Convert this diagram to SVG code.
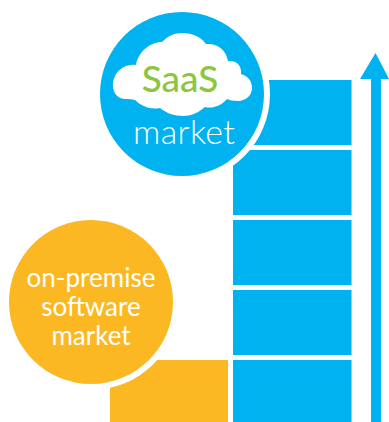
<svg xmlns="http://www.w3.org/2000/svg" width="389" height="422" viewBox="0 0 389 422">
<style>
.b{fill:#00b2ef}.o{fill:#fcb823}
text{font-family:"Lato","Liberation Sans",sans-serif;text-anchor:middle}
.w{fill:#fff;font-size:26px}
</style>
<g id="bars">
<rect class="b" x="233" y="80" width="118.500" height="65"/>
<rect class="b" x="233" y="150" width="118.500" height="65"/>
<rect class="b" x="233" y="220" width="118.500" height="65"/>
<rect class="b" x="233" y="290" width="118.500" height="65"/>
<rect class="b" x="233" y="360" width="118.500" height="62"/>
<rect class="o" x="110" y="360" width="118" height="62"/>
</g>
<g id="connectors">
<path class="b" d="M371 422V79H360L375.500 53L389 79H381V422Z"/>
</g>
<g id="saas">
<circle cx="182" cy="94" r="88" fill="#fff"/>
<circle class="b" cx="182" cy="94" r="82"/>
<path fill="#fff" d="M125 99C116 99 112 90 113 83C114 72 124 63 136 65C138 52 150 42 162 42C168 36 174 33 182 33C193 33 201 37 206 44C218 43 226 50 228 61C237 60 242 66 241 74C248 76 252 81 252 88C252 96 245 101 238 101C233 101 229 100 227 99C221 106 212 109 205 107C198 113 191 116 183 116C174 116 166 113 160 108C150 110 141 106 135 100C132 99 128 99 125 99Z"/>
<text x="180" y="92" font-size="37" fill="#8cc63f" font-weight="500">SaaS</text>
<text x="184" y="144" font-size="34" fill="#fff" font-weight="300" textLength="102">market</text>
</g>
<g id="onpremise">
<circle cx="91" cy="302" r="88" fill="#fff"/>
<circle class="o" cx="91" cy="302" r="82"/>
<text class="w" x="91" y="286.500">on-premise</text>
<text class="w" x="91" y="315.500">software</text>
<text class="w" x="91" y="345">market</text>
</g>
</svg>
